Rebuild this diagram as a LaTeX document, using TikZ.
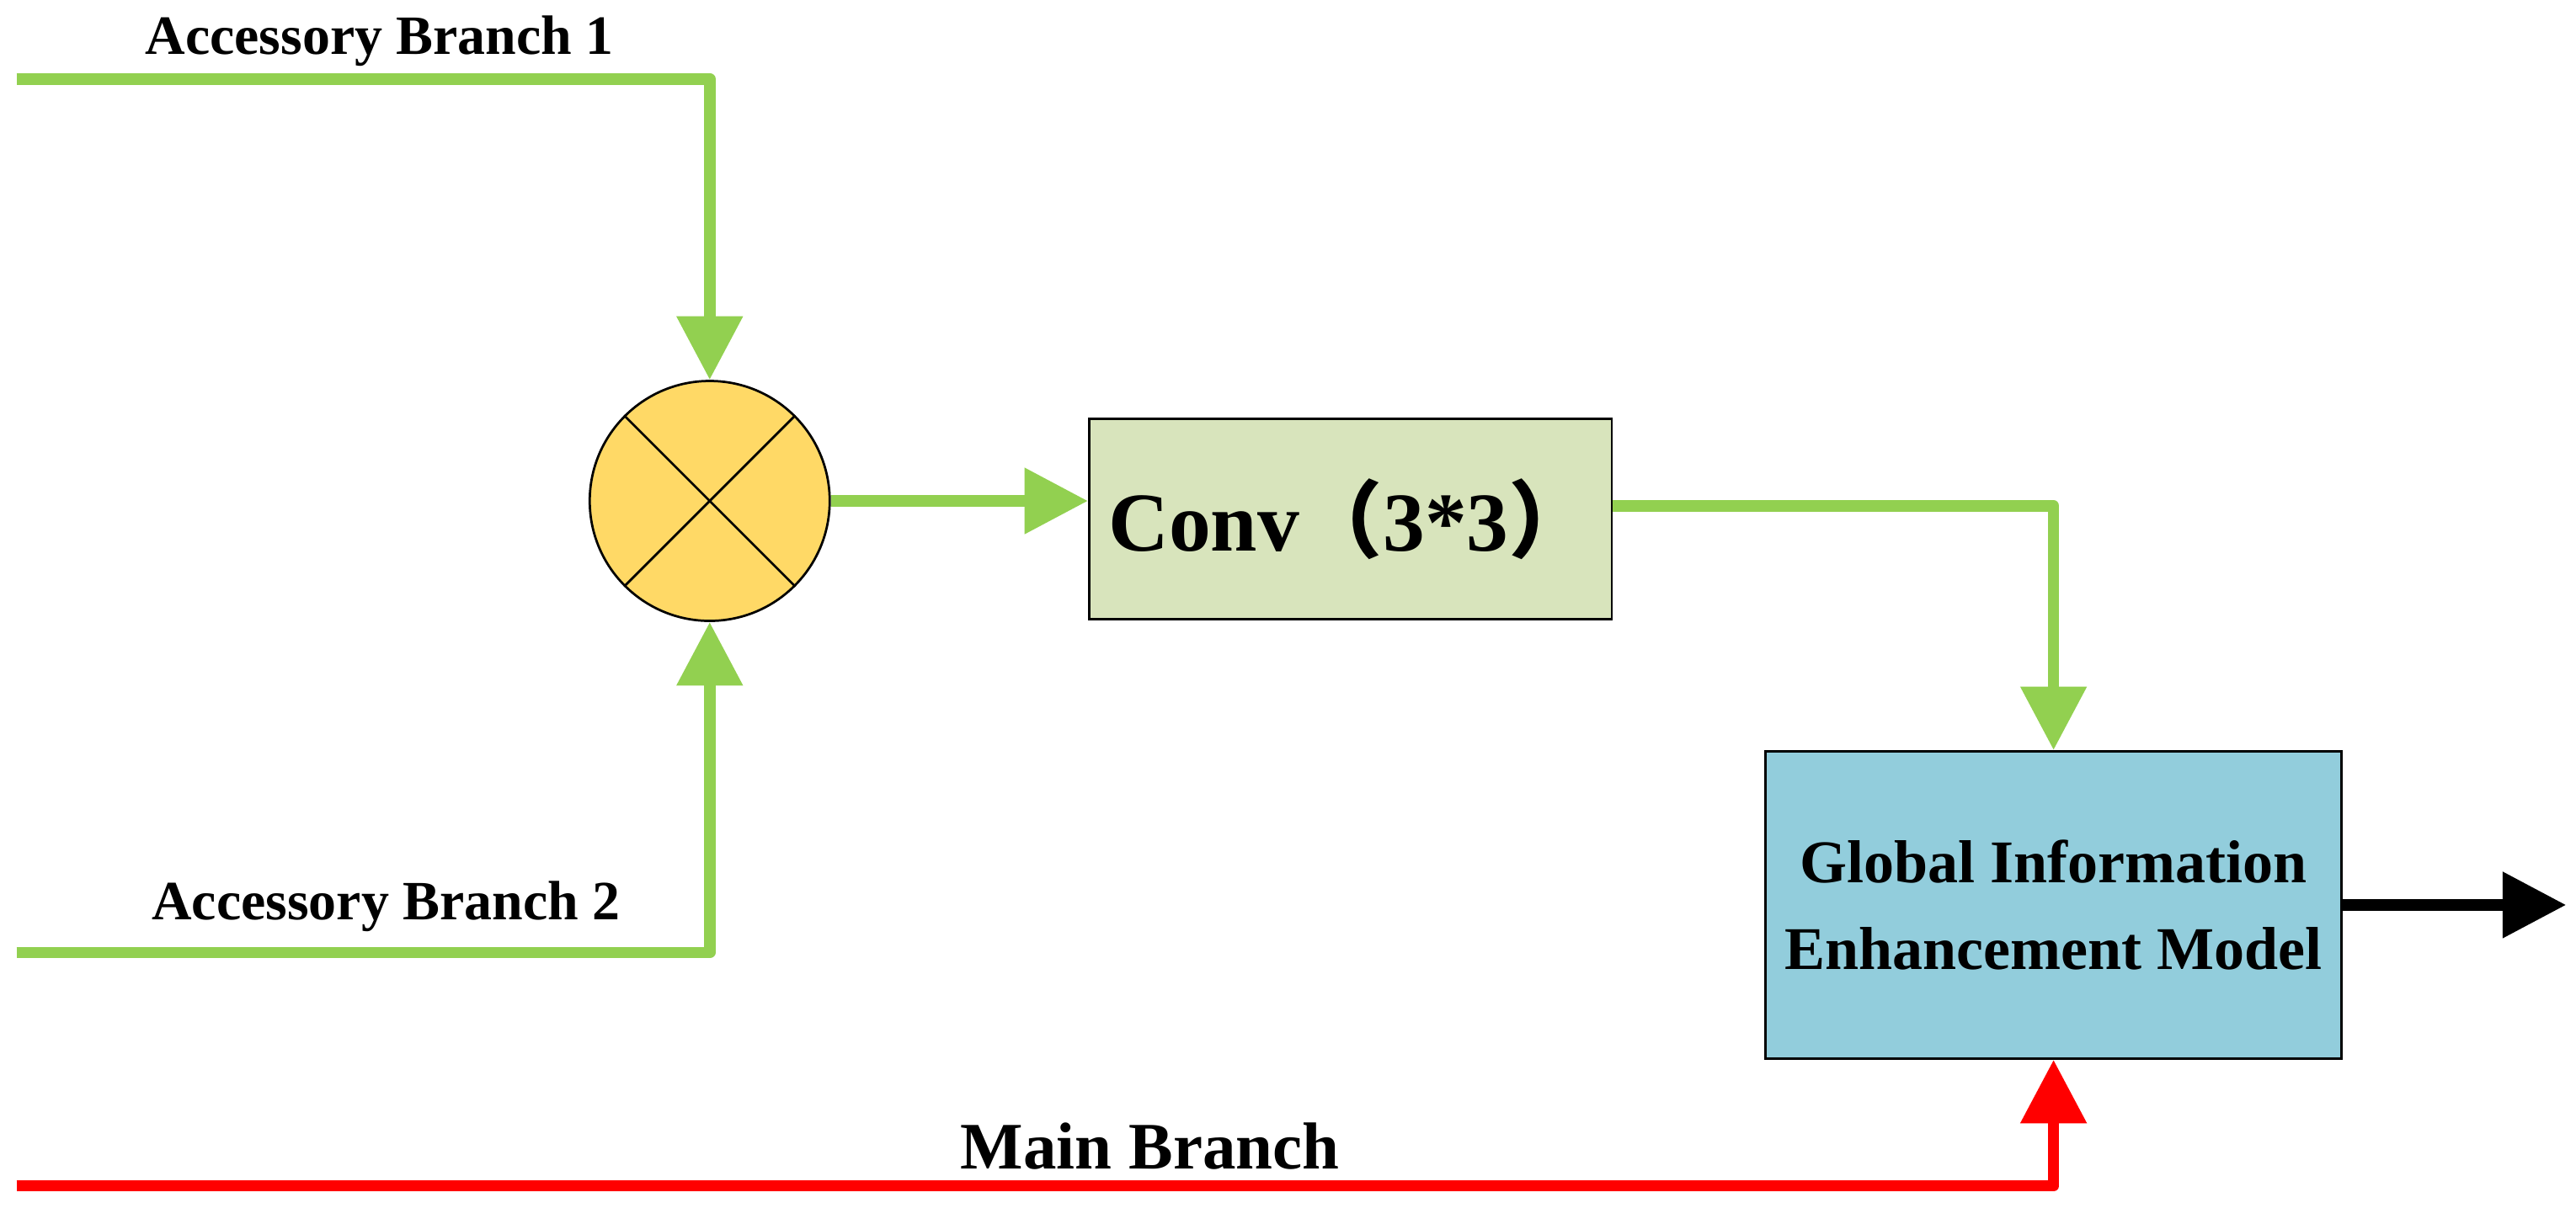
\documentclass[tikz,border=0pt]{standalone}
\usepackage{fontspec}
\setmainfont{Liberation Serif}
\newfontfamily\cjk{Noto Sans CJK SC}
\usetikzlibrary{arrows.meta}
\definecolor{gr}{HTML}{92D050}
\definecolor{circ}{HTML}{FFD966}
\definecolor{convc}{HTML}{D8E4BC}
\definecolor{gie}{HTML}{92CDDC}
\begin{document}
\begin{tikzpicture}[x=0.01cm,y=-0.01cm,
  ln/.style={line width=2pt,line join=round},
  tip/.style={-{Triangle[length=11pt,width=11pt]}},
  lab/.style={font=\bfseries\fontsize{9.6}{11}\selectfont}]
\useasboundingbox (0,0) rectangle (1568,742);
% nodes
\node[circle,draw=black,thin,fill=circ,minimum size=1.46cm,inner sep=0] (c) at (432,305) {};
\draw[thin] (c.north west) -- (c.south east) (c.north east) -- (c.south west);
\node[draw=black,thin,fill=convc,minimum width=3.11cm,minimum height=1.22cm,font=\bfseries\fontsize{14.5}{17}\selectfont] (conv) at (822,316) {Conv{\cjk（}3*3{\cjk）}};
\node[draw=black,thin,fill=gie,minimum width=3.5cm,minimum height=1.87cm,align=center,font=\bfseries\fontsize{10.5}{15}\selectfont] (g) at (1250,551) {Global Information\\Enhancement Model};
\coordinate (a1) at (10,48);
\coordinate (a2) at (10,580);
\coordinate (m) at (10,722);
\coordinate (out) at (1562,551);
% connectors
\draw[ln,gr,tip] (a1) -| (c.north);
\draw[ln,gr,tip] (a2) -| (c.south);
\draw[ln,gr,tip] (c.east) -- (conv.west|-c.east);
\draw[ln,gr,tip] (conv.east|-0,308) -| (g.north);
\draw[ln,red,tip] (m) -| (g.south);
\draw[ln,black,tip] (g.east) -- (out);
% labels
\node[lab] at (231,25) {Accessory Branch 1};
\node[lab] at (235,552) {Accessory Branch 2};
\node[font=\bfseries\fontsize{11.5}{14}\selectfont] at (700,698) {Main Branch};
\end{tikzpicture}
\end{document}
